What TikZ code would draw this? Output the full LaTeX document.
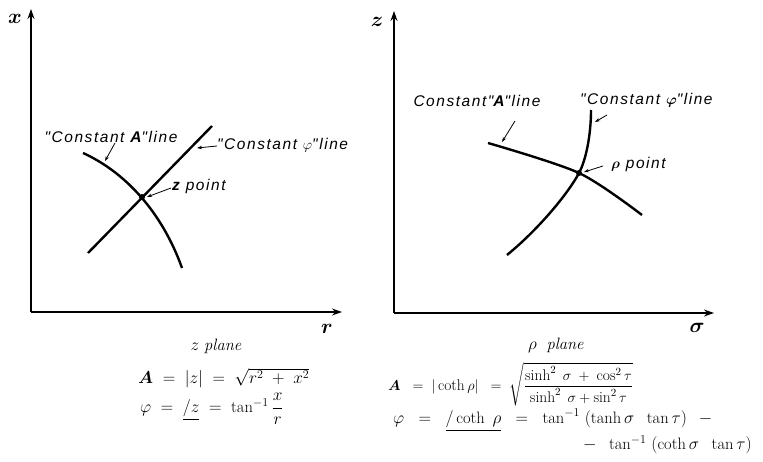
\documentclass[tikz,border=0pt]{standalone}
\usepackage{amsmath}
\usepackage{bm}
\usepackage{fontspec}
\newfontfamily\handfont[LetterSpace=10]{Liberation Sans}
\usetikzlibrary{arrows.meta}
\begin{document}
\begin{tikzpicture}[x=1pt,y=-1pt,
  axis/.style={line width=1.3pt,-{Stealth[length=10pt,width=7pt]}},
  curve/.style={line width=2.4pt},
  pointer/.style={line width=0.8pt,-{Stealth[length=5pt,width=3.5pt]}},
  hand/.style={font=\fontsize{15.5}{17}\selectfont\handfont\itshape,inner sep=0pt},
  axlabel/.style={font=\fontsize{21}{23}\selectfont,inner sep=0pt},
  eq/.style={font=\fontsize{16.5}{19}\selectfont,inner sep=0pt},
  eqs/.style={font=\fontsize{15.5}{18}\selectfont,inner sep=0pt}]
\useasboundingbox (0,0) rectangle (763,462);
% ---------- left panel ----------
\coordinate (O1) at (31,312);
\coordinate (Y1) at (31,9);
\coordinate (X1) at (342,312);
\draw[axis] (O1) -- (Y1);
\draw[axis] (O1) -- (X1);
\node[axlabel] (xl) at (15,19) {$\bm{x}$};
\node[axlabel] (rl) at (327,329) {$\bm{r}$};
\coordinate (zp) at (142,197);
\coordinate (a1s) at (83,153);
\coordinate (a1e) at (182,268);
\coordinate (p1s) at (88,253);
\coordinate (p1e) at (212,126);
\draw[curve] (a1s) .. controls (125,172) and (162,212) .. (a1e);
\draw[curve] (p1s) -- (p1e);
\fill (zp) circle (3pt);
\node[hand] (cA1) at (111,137) {"Constant \textbf{A}"line};
\node[hand,anchor=west] (cP1) at (217,145) {"Constant $\varphi$"line};
\node[hand,anchor=west] (zpt) at (172,186) {\textbf{z} point};
\coordinate (cA1t) at (105,161);
\coordinate (cP1t) at (197,148);
\coordinate (zpt1) at (147,197);
\draw[pointer] (115,143) -- (cA1t);
\draw[pointer] (cP1.west) ++(0,1) -- (cP1t);
\draw[pointer] (zpt.west) ++(-1,2) -- (zpt1);
% ---------- right panel ----------
\coordinate (O2) at (394,313);
\coordinate (Y2) at (394,11);
\coordinate (X2) at (714,313);
\draw[axis] (O2) -- (Y2);
\draw[axis] (O2) -- (X2);
\node[axlabel] (tl) at (377,22) {$\bm{z}$};
\node[axlabel] (sl) at (697,328) {$\bm{\sigma}$};
\coordinate (rp) at (579,173);
\draw[curve] plot[smooth] coordinates {(488,143) (rp) (642,215)};
\draw[curve] (507,255) .. controls (540,228) and (569,192) .. (rp)
                       .. controls (586,160) and (591,135) .. (591,110);
\fill (rp) circle (3pt);
\node[hand] (cA2) at (477,101) {Constant"\textbf{A}"line};
\node[hand,anchor=west] (cP2) at (580,100) {"Constant $\bm{\varphi}$"line};
\node[hand,anchor=west] (rpt) at (611,164) {$\bm{\rho}$ point};
\coordinate (cA2t) at (502,142);
\coordinate (cP2t) at (595,122);
\coordinate (rpt1) at (584,172);
\draw[pointer] (515,121) -- (cA2t);
\draw[pointer] (607,115) -- (cP2t);
\draw[pointer] (rpt.west) ++(-8,2) -- (rpt1);
% ---------- equations ----------
\node[eq] (zpl) at (216,346) {$z$ \textit{plane}};
\node[eq,anchor=west] (e1) at (138,378) {$\bm{A}\;=\;|z|\;=\;\sqrt{r^2\;+\;x^2}$};
\node[eq,anchor=west] (e2) at (140,409) {$\varphi\;=\;\underline{/z}\;=\;\tan^{-1}\dfrac{x}{r}$};
\node[eq] (rpl) at (556,345) {$\rho$\; \textit{plane}};
\node[eqs,anchor=west] (e3) at (388,384) {$\bm{A}\;\;=\;|\coth\rho|\;\;=\;\sqrt{\dfrac{\sinh^2\;\sigma\;+\;\cos^2\tau}{\sinh^2\;\sigma+\sin^2\tau}}$};
\node[eq,anchor=west] (e4) at (393,420) {$\varphi\;\;=\;\;\underline{/\coth\;\rho}\;\;=\;\;\tan^{-1}\;(\tanh\sigma\;\;\tan\tau)\hspace{12pt}-$};
\node[eq,anchor=east] (e5) at (752,445) {$-\;\;\tan^{-1}\;(\coth\sigma\;\;\tan\tau)$};
\end{tikzpicture}
\end{document}
